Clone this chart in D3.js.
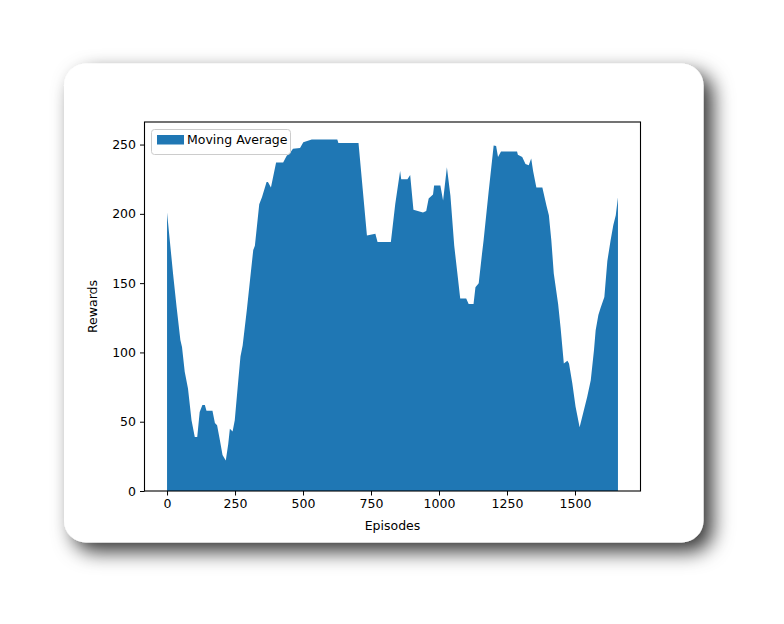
<!DOCTYPE html>
<html>
<head>
<meta charset="utf-8">
<script src="https://cdn.jsdelivr.net/npm/d3@7"></script>
<style>
  html, body { margin: 0; padding: 0; background: #ffffff; }
  svg { display: block; }
  text { font-family: "DejaVu Sans", sans-serif; }
</style>
</head>
<body>
<svg id="chart" width="784" height="624"></svg>
<script>
// ---- data ----
const episodes = [0, 22, 35, 49, 55, 65, 77, 90, 102, 111, 120, 130, 139, 145, 167, 176, 184, 194, 204, 216, 225, 231, 241, 249, 262, 270, 278, 293, 305, 317, 323, 339, 349, 366, 371, 382, 401, 427, 440, 452, 463, 489, 501, 532, 626, 630, 704, 735, 766, 774, 823, 832, 839, 857, 861, 884, 894, 906, 941, 953, 962, 978, 982, 1005, 1015, 1029, 1042, 1056, 1067, 1078, 1100, 1109, 1127, 1134, 1146, 1158, 1164, 1182, 1201, 1210, 1217, 1228, 1287, 1290, 1306, 1318, 1330, 1339, 1346, 1358, 1380, 1395, 1404, 1413, 1422, 1438, 1447, 1459, 1472, 1478, 1490, 1502, 1508, 1517, 1531, 1545, 1558, 1570, 1576, 1586, 1594, 1608, 1619, 1631, 1641, 1650, 1658];
const rewards = [201, 157, 133, 109, 104, 86, 74, 51, 39, 39, 57, 62, 62, 58, 58, 49, 47.5, 37, 26, 22, 34, 45, 43, 51, 80, 97, 105, 130, 152, 174, 177, 207, 212, 223, 223, 219, 237, 237, 242, 244, 247, 247.6, 251.7, 253.6, 253.6, 251.2, 251.2, 184.4, 185.6, 179.6, 179.6, 195, 207, 231, 225, 225, 228, 203, 201, 202, 211, 214, 220.5, 220.5, 209.7, 233.7, 213, 177, 158, 139, 139, 135, 135, 147, 150, 171, 181, 215, 249.3, 249, 241, 245, 245, 242.6, 241, 236, 235, 240, 231, 219, 219, 206, 199, 181, 157, 135, 118, 92, 94, 92, 78, 61, 55, 46, 57, 68, 80, 102, 116, 127, 132, 140, 166, 181, 192, 199, 212];
const xTicks = [0, 250, 500, 750, 1000, 1250, 1500];
const yTicks = [0, 50, 100, 150, 200, 250];
const seriesName = "Moving Average";
const xLabel = "Episodes";
const yLabel = "Rewards";

const data = episodes.map((e, i) => ({ x: e, y: rewards[i] }));

const svg = d3.select("#chart");
const defs = svg.append("defs");
const f = defs.append("filter").attr("id", "shadow")
  .attr("x", "-20%").attr("y", "-20%").attr("width", "150%").attr("height", "150%");
f.append("feDropShadow").attr("dx", 9).attr("dy", 9).attr("stdDeviation", 10)
  .attr("flood-color", "#000").attr("flood-opacity", 0.8);

// card
svg.append("rect")
  .attr("x", 64).attr("y", 63.5).attr("width", 639.5).attr("height", 479)
  .attr("rx", 22).attr("ry", 22)
  .attr("fill", "#ffffff")
  .attr("filter", "url(#shadow)");

const plot = { left: 144.5, right: 640.5, top: 122, bottom: 491 };

const xMax = d3.max(episodes);
const xPad = xMax * 0.05;
const x = d3.scaleLinear().domain([-xPad, xMax + xPad]).range([plot.left, plot.right]);
const yMax = d3.max(rewards) * 1.05;
const y = d3.scaleLinear().domain([0, yMax]).range([plot.bottom, plot.top]);

const area = d3.area().x(d => x(d.x)).y0(y(0)).y1(d => y(d.y)).curve(d3.curveLinear);

svg.append("path").datum(data)
  .attr("d", area)
  .attr("fill", "#1f77b4");

// axes
const fontSize = "12.5px";
const xAxis = svg.append("g").attr("transform", `translate(0,${plot.bottom})`)
  .call(d3.axisBottom(x).tickValues(xTicks).tickSize(4.5).tickPadding(4).tickFormat(d3.format("d")));
const yAxis = svg.append("g").attr("transform", `translate(${plot.left},0)`)
  .call(d3.axisLeft(y).tickValues(yTicks).tickSize(4.5).tickPadding(4).tickFormat(d3.format("d")));
[xAxis, yAxis].forEach(g => {
  g.select(".domain").remove();
  g.selectAll("line").attr("stroke", "#000").attr("stroke-width", 1);
  g.selectAll("text").attr("fill", "#000").style("font-size", fontSize).style("font-family", "DejaVu Sans");
});

// frame
svg.append("rect")
  .attr("x", plot.left).attr("y", plot.top)
  .attr("width", plot.right - plot.left).attr("height", plot.bottom - plot.top)
  .attr("fill", "none").attr("stroke", "#000").attr("stroke-width", 1.1);

// axis labels
svg.append("text").attr("x", (plot.left + plot.right) / 2).attr("y", 530)
  .attr("text-anchor", "middle").style("font-size", fontSize).text(xLabel);
svg.append("text").attr("transform", `translate(97,${(plot.top + plot.bottom) / 2}) rotate(-90)`)
  .attr("text-anchor", "middle").style("font-size", fontSize).text(yLabel);

// legend
const lg = svg.append("g");
lg.append("rect").attr("x", 151.5).attr("y", 129.5).attr("width", 139).attr("height", 25)
  .attr("rx", 3).attr("fill", "#ffffff").attr("fill-opacity", 0.8)
  .attr("stroke", "#cccccc").attr("stroke-width", 1);
lg.append("rect").attr("x", 157).attr("y", 135).attr("width", 27).attr("height", 9.5)
  .attr("fill", "#1f77b4");
lg.append("text").attr("x", 187).attr("y", 144).style("font-size", fontSize).text(seriesName);
</script>
</body>
</html>
